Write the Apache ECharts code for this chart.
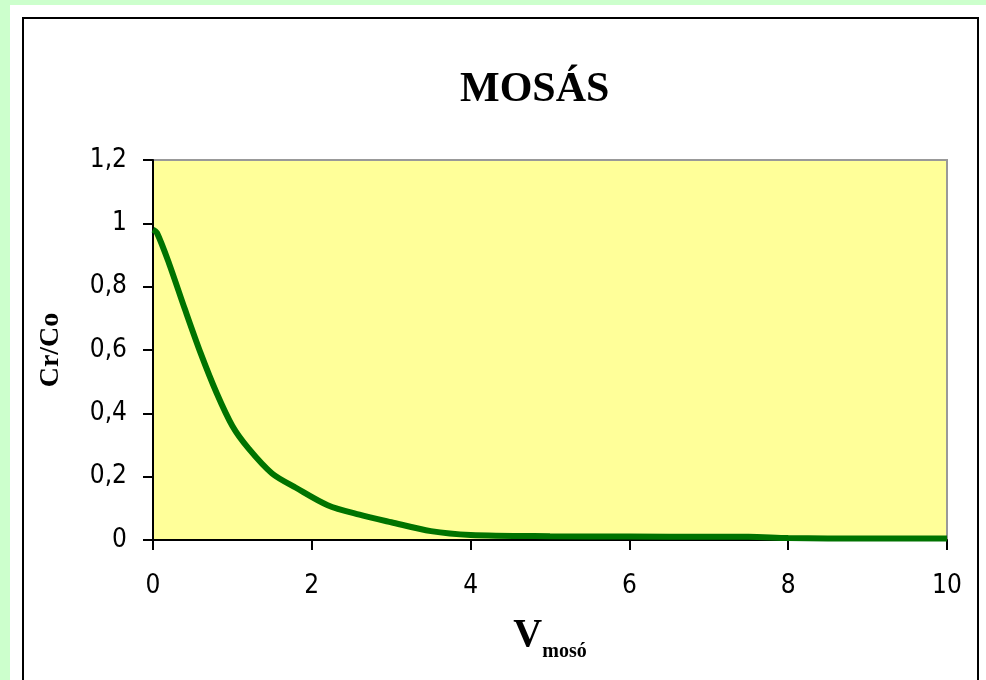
<!DOCTYPE html>
<html>
<head>
<meta charset="utf-8">
<script src="https://cdn.jsdelivr.net/npm/echarts@6/dist/echarts.min.js"></script>
<style>
html, body { margin: 0; padding: 0; }
body { width: 986px; height: 680px; background: #ccffcc; position: relative; overflow: hidden; }
#panel { position: absolute; left: 10px; top: 5px; width: 976px; height: 675px; background: #ffffff; }
#frame { position: absolute; left: 22px; top: 17px; width: 957px; height: 680px; border: 2px solid #000; box-sizing: border-box; }
#main { position: absolute; left: 0; top: 0; width: 986px; height: 680px; }
</style>
</head>
<body>
<div id="panel"></div>
<div id="frame"></div>
<div id="main"></div>
<script>
// V moso (x) vs Cr/Co (y)
var volumes = [0, 0.05, 0.2, 0.4, 0.6, 0.8, 1.0, 1.2, 1.5, 1.8, 2.2, 2.6, 3.0, 3.5, 4.0, 5, 6, 7, 7.5, 8, 9, 10];
var ratios = [0.98, 0.97, 0.875, 0.73, 0.59, 0.465, 0.36, 0.29, 0.21, 0.165, 0.11, 0.08, 0.056, 0.028, 0.016, 0.012, 0.011, 0.010, 0.010, 0.006, 0.005, 0.005];
var xTicks = [0, 2, 4, 6, 8, 10];
var yTicks = [0, 0.2, 0.4, 0.6, 0.8, 1, 1.2];

var points = volumes.map(function (v, i) { return [v, ratios[i]]; });

var chart = echarts.init(document.getElementById("main"));
var option = {
  animation: false,
  title: {
    text: "MOSÁS",
    left: 455,
    top: 64,
    textStyle: { fontFamily: "Liberation Serif", fontWeight: "bold", fontSize: 42, color: "#000" }
  },
  grid: {
    left: 153, right: 39, top: 160, bottom: 140,
    show: true, backgroundColor: "#ffff99", borderColor: "#999", borderWidth: 2
  },
  xAxis: {
    type: "value",
    min: xTicks[0], max: xTicks[xTicks.length - 1], interval: 2,
    name: "{v|V}{s|mosó}",
    nameLocation: "middle",
    nameGap: 76,
    nameTextStyle: {
      rich: {
        v: { fontFamily: "Liberation Serif", fontWeight: "bold", fontSize: 40, color: "#000", verticalAlign: "bottom" },
        s: { fontFamily: "Liberation Serif", fontWeight: "bold", fontSize: 20, color: "#000", verticalAlign: "bottom", padding: [0, 0, -6, 0] }
      }
    },
    axisLine: { lineStyle: { color: "#000", width: 2 } },
    axisTick: { length: 10, lineStyle: { color: "#000", width: 2 } },
    axisLabel: { margin: 33, fontFamily: "DejaVu Sans Condensed, Liberation Sans", fontSize: 26, color: "#000" },
    splitLine: { show: false }
  },
  yAxis: {
    type: "value",
    min: yTicks[0], max: yTicks[yTicks.length - 1], interval: 0.2,
    name: "Cr/Co",
    nameLocation: "middle",
    nameGap: 88,
    nameTextStyle: { fontFamily: "Liberation Serif", fontWeight: "bold", fontSize: 28, color: "#000" },
    axisLine: { show: true, lineStyle: { color: "#000", width: 2 } },
    axisTick: { show: true, length: 10, lineStyle: { color: "#000", width: 2 } },
    axisLabel: {
      margin: 26, fontFamily: "DejaVu Sans Condensed, Liberation Sans", fontSize: 26, color: "#000",
      formatter: function (v) { return String(Math.round(v * 10) / 10).replace(".", ","); }
    },
    splitLine: { show: false }
  },
  series: [{
    type: "line",
    data: points,
    smooth: 0.3,
    showSymbol: false,
    lineStyle: { color: "#007300", width: 6 }
  }]
};
chart.setOption(option);
</script>
</body>
</html>
